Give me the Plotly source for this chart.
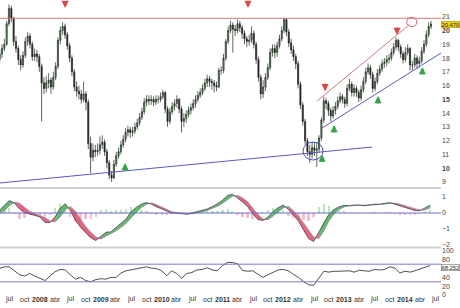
import pandas as pd
import plotly.graph_objects as go

# ---------------- data ----------------
bar_dates = pd.date_range('2007-05-04', periods=186, freq='14D')
closes = [18.3,18.7,19.0,20.5,21.6,20.9,19.2,18.7,17.9,17.5,
          18.2,19.2,19.6,19.0,18.1,18.3,18.1,17.4,16.2,15.8,
          16.2,16.4,15.9,16.6,17.4,19.3,20.0,20.3,19.7,18.9,
          18.0,17.0,15.9,15.6,15.4,15.0,15.4,14.8,11.8,10.8,
          11.3,11.2,11.3,11.7,11.9,11.2,10.4,9.5,9.3,10.3,
          10.9,11.2,11.7,12.1,12.6,12.8,12.6,12.7,13.0,13.3,
          13.7,14.1,14.8,15.0,14.9,15.0,14.8,15.0,15.0,15.2,
          15.5,14.3,13.4,14.1,14.5,14.7,15.0,14.3,13.4,13.6,
          13.9,14.2,14.4,14.7,15.0,15.3,15.5,15.8,16.2,16.5,
          16.3,16.2,16.0,15.9,17.1,17.1,18.0,19.2,20.0,20.4,
          20.1,20.0,20.5,20.2,19.8,19.4,19.2,19.3,19.8,19.0,
          17.9,16.6,15.4,15.9,16.6,17.3,18.4,18.7,18.4,18.9,
          19.4,20.0,20.8,19.9,19.1,18.6,18.1,17.6,16.1,14.6,
          13.4,12.0,11.2,11.0,11.5,11.3,11.4,12.2,13.5,14.9,
          14.7,14.2,13.8,14.2,14.5,14.9,15.2,15.0,14.7,15.8,
          16.1,15.5,15.8,15.5,15.1,15.7,16.3,17.0,17.3,16.8,
          15.8,16.3,16.9,17.2,17.6,17.7,17.9,18.0,18.4,18.8,
          19.3,18.8,18.3,17.9,18.4,18.7,17.5,17.5,18.0,17.6,
          17.8,18.5,19.0,19.7,20.3,20.47]
highs = [18.6,19.0,19.4,20.7,21.9,21.8,21.0,19.6,18.9,18.2,
         18.5,19.5,19.9,19.8,19.2,18.7,18.6,18.3,17.6,16.6,
         16.7,16.9,16.6,17.0,17.7,19.5,20.3,20.6,20.5,19.9,
         19.1,18.2,17.2,16.3,16.0,15.7,16.3,15.6,15.0,12.3,
         11.8,11.7,11.8,12.3,12.4,12.1,11.4,10.6,9.8,10.6,
         11.2,11.5,12.0,12.4,12.9,13.1,13.0,13.0,13.3,13.6,
         14.0,14.4,15.1,15.3,15.3,15.3,15.2,15.3,15.3,15.5,
         15.7,15.6,14.5,14.4,14.8,15.0,15.3,15.1,14.5,14.0,
         14.2,14.5,14.7,15.0,15.3,15.6,15.8,16.1,16.5,16.8,
         16.7,16.5,16.4,16.3,17.3,17.4,18.3,19.4,20.3,20.7,
         20.6,20.4,20.8,20.7,20.4,20.0,19.6,19.7,20.3,20.0,
         19.2,18.1,16.8,16.4,16.9,17.6,18.7,19.0,19.0,19.2,
         19.7,20.3,20.95,20.9,20.1,19.4,18.9,18.3,17.8,16.3,
         14.8,13.6,12.2,11.7,11.9,11.9,11.9,12.4,13.7,15.2,
         15.1,14.9,14.4,14.5,14.8,15.2,15.5,15.4,15.2,16.1,
         16.5,16.3,16.1,16.0,15.7,16.0,16.6,17.3,17.6,17.5,
         17.0,16.6,17.2,17.5,17.9,18.0,18.2,18.3,18.7,19.1,
         19.5,19.4,19.0,18.5,18.8,19.0,18.8,17.8,18.3,18.2,
         18.1,18.8,19.3,20.0,20.6,20.7]
lows = [17.6,18.0,18.5,18.9,20.3,20.6,18.9,18.4,17.5,17.1,
        17.3,18.0,18.9,18.7,17.8,17.8,17.7,17.0,13.4,15.4,
        15.5,15.8,15.4,15.7,16.4,17.2,19.0,19.7,19.4,18.6,
        17.7,16.7,15.6,15.2,15.0,14.7,14.8,14.2,11.4,9.65,
        10.5,10.8,10.9,11.0,11.4,10.9,10.0,9.2,9.0,9.2,
        10.1,10.7,11.0,11.5,11.9,12.3,12.2,12.3,12.5,12.8,
        13.1,13.5,13.9,14.5,14.6,14.6,14.5,14.6,14.7,14.8,
        15.0,14.0,13.0,13.2,13.9,14.2,14.4,14.0,12.6,13.0,
        13.3,13.7,13.9,14.2,14.4,14.8,15.1,15.3,15.6,15.9,
        15.9,15.7,15.5,15.6,15.8,16.8,16.9,17.8,19.0,19.8,
        18.4,19.6,19.8,19.9,19.4,19.0,18.8,18.9,19.1,18.7,
        17.6,16.3,15.0,15.1,15.6,16.4,17.1,18.1,18.0,18.1,
        18.7,19.2,19.8,19.6,18.8,18.3,17.8,17.2,15.8,14.3,
        13.1,11.7,10.9,10.4,10.7,10.9,10.1,11.1,12.0,13.3,
        14.3,13.8,13.4,13.6,13.9,14.3,14.7,14.7,14.4,14.5,
        15.6,15.2,15.2,15.2,14.8,14.9,15.5,16.1,16.8,16.5,
        15.5,15.6,16.1,16.7,17.0,17.3,17.4,17.6,17.8,18.2,
        18.6,18.5,18.0,17.6,17.7,18.2,17.1,17.1,17.3,17.2,
        17.3,17.6,18.3,18.8,19.5,20.1]
first_open = 17.9
opens = [first_open] + closes[:-1]

ind_dates = pd.date_range('2007-05-01', periods=86, freq='MS')
macd = [0.15,0.5,0.78,0.62,0.25,0.02,-0.05,-0.15,-0.25,-0.6,
        -0.6,-0.25,0.3,0.58,0.15,-0.45,-0.9,-1.2,-1.55,-1.72,
        -1.45,-1.2,-1.18,-0.92,-0.7,-0.38,0.08,0.35,0.55,0.65,
        0.55,0.38,0.26,0.1,0.0,0.0,-0.04,-0.08,0.0,0.07,
        0.15,0.25,0.4,0.57,0.8,1.1,1.17,0.95,0.7,0.4,
        -0.05,-0.4,-0.47,-0.25,0.1,0.33,0.5,0.22,-0.15,-0.5,
        -1.05,-1.6,-1.78,-1.2,-0.55,-0.08,0.22,0.38,0.48,0.45,
        0.5,0.5,0.45,0.5,0.55,0.55,0.6,0.65,0.55,0.45,
        0.35,0.25,0.15,0.15,0.3,0.5]
signal = [-0.05,0.15,0.45,0.68,0.6,0.35,0.1,-0.05,-0.15,-0.3,
          -0.5,-0.55,-0.25,0.2,0.4,0.1,-0.4,-0.85,-1.2,-1.5,
          -1.62,-1.45,-1.28,-1.12,-0.9,-0.65,-0.3,0.05,0.35,0.55,
          0.63,0.52,0.38,0.22,0.08,0.02,-0.02,-0.06,-0.05,0.0,
          0.07,0.15,0.27,0.42,0.6,0.85,1.05,1.1,0.95,0.7,
          0.3,-0.1,-0.38,-0.42,-0.2,0.08,0.32,0.42,0.15,-0.2,
          -0.6,-1.1,-1.5,-1.6,-1.1,-0.5,-0.05,0.22,0.38,0.45,
          0.46,0.48,0.48,0.47,0.5,0.53,0.56,0.6,0.62,0.55,
          0.45,0.35,0.25,0.18,0.2,0.32]
rsi = [60,64,64,55,46,43,49,43,38,33,
       43,53,58,57,46,36,40,33,30,35,
       37,36,40,40,50,55,57,59,62,64,
       61,60,55,44,55,49,38,49,51,57,
       58,62,57,55,67,74,74,71,56,54,
       55,47,40,46,51,57,58,55,47,40,
       31,23,22,38,54,52,54,54,55,55,
       52,56,55,54,58,57,58,64,61,50,
       54,52,55,60,63,67]

# annotations
resistance_level = 20.89
support_line = (('2007-05-06', 8.93), ('2013-06-18', 11.54))
red_channel = (('2012-07-22', 14.88), ('2014-02-01', 20.47))
blue_channel = (('2012-08-21', 12.92), ('2014-08-05', 18.37))
red_arrow_dates = ['2008-05-31', '2011-06-03', '2012-09-08', '2013-11-14']
red_arrow_vals = [21.64, 21.64, 15.6, 19.68]
green_arrow_dates = ['2009-05-26', '2012-08-21', '2012-11-01', '2013-07-23', '2014-04-15']
green_arrow_vals = [10.38, 11.0, 13.14, 15.25, 17.35]
blue_circle = ('2012-04-29', '2012-08-27', 10.6, 11.9)
red_circle = ('2014-01-11', '2014-03-13', 20.28, 20.96)
last_price_label = '20.470'
last_rsi_label = '68.252'
rsi_levels = [30, 70]

price_ticks = list(range(9, 23))
macd_ticks = [-2, -1, 0, 1]
rsi_ticks = [0, 20, 40, 80, 100]
month_names = {4: 'abr', 7: 'jul', 10: 'oct'}
x_start, x_end = '2007-05-06', '2014-08-05'

# ---------------- figure ----------------
W, H = 460, 308
PLOT_W = 441
def py(pix):  # pixel row -> paper y (t=b=0)
    return (H - pix) / H
RIGHT_EDGE = (W - 0.5) / PLOT_W  # paper x of the figure's right edge

fig = go.Figure()

fig.add_trace(go.Candlestick(
    x=bar_dates, open=opens, high=highs, low=lows, close=closes,
    increasing=dict(line=dict(color='#1f2b1f', width=0.7), fillcolor='#5f9f5f'),
    decreasing=dict(line=dict(color='#1e1e1e', width=0.7), fillcolor='#2c2c2c'),
    whiskerwidth=0, xaxis='x', yaxis='y', showlegend=False, hoverinfo='skip'))

# MACD histogram
hist = [m - s for m, s in zip(macd, signal)]
fig.add_trace(go.Bar(
    x=ind_dates, y=hist, width=14 * 86400000,
    marker=dict(color=['rgba(120,205,110,0.5)' if h >= 0 else 'rgba(235,130,165,0.5)' for h in hist],
                line=dict(width=0)),
    xaxis='x2', yaxis='y2', showlegend=False, hoverinfo='skip'))

# MACD ribbon (green when macd above signal, red otherwise)
n = len(hist)
start = 0
for i in range(1, n + 1):
    if i == n or (hist[i] >= 0) != (hist[start] >= 0):
        end = min(i + 1, n)
        xs = list(ind_dates[start:end]) + list(ind_dates[start:end])[::-1]
        ys = macd[start:end] + signal[start:end][::-1]
        col = 'rgba(70,175,80,0.85)' if hist[start] >= 0 else 'rgba(225,75,100,0.85)'
        fig.add_trace(go.Scatter(x=xs, y=ys, fill='toself', fillcolor=col, mode='lines',
                                 line=dict(width=0), xaxis='x2', yaxis='y2',
                                 showlegend=False, hoverinfo='skip'))
        start = i
fig.add_trace(go.Scatter(x=ind_dates, y=signal, mode='lines', line=dict(color='#8a8a9a', width=0.8),
                         xaxis='x2', yaxis='y2', showlegend=False, hoverinfo='skip'))
fig.add_trace(go.Scatter(x=ind_dates, y=macd, mode='lines', line=dict(color='#4a3f5a', width=0.8),
                         xaxis='x2', yaxis='y2', showlegend=False, hoverinfo='skip'))

# RSI
fig.add_trace(go.Scatter(x=ind_dates, y=rsi, mode='lines', line=dict(color='#222222', width=0.8),
                         xaxis='x3', yaxis='y3', showlegend=False, hoverinfo='skip'))

shapes = []
for pix in (188, 247.5):
    shapes.append(dict(type='line', xref='paper', yref='paper', x0=0, x1=1, y0=py(pix), y1=py(pix),
                       line=dict(color='#cfcfcf', width=2)))
shapes.append(dict(type='line', xref='paper', yref='y', x0=0, x1=1, y0=resistance_level, y1=resistance_level,
                   line=dict(color='#d07a7a', width=1)))
for (a, b), col in ((support_line, '#5a5ac0'), (red_channel, '#d07a7a'), (blue_channel, '#5a5ac0')):
    shapes.append(dict(type='line', xref='x', yref='y', x0=a[0], y0=a[1], x1=b[0], y1=b[1],
                       line=dict(color=col, width=1)))
shapes.append(dict(type='circle', xref='x', yref='y', x0=blue_circle[0], x1=blue_circle[1],
                   y0=blue_circle[2], y1=blue_circle[3], line=dict(color='#4a4ac0', width=1)))
shapes.append(dict(type='circle', xref='x', yref='y', x0=red_circle[0], x1=red_circle[1],
                   y0=red_circle[2], y1=red_circle[3], line=dict(color='#d06a6a', width=1)))
shapes.append(dict(type='line', xref='paper', yref='y2', x0=0, x1=1, y0=0, y1=0,
                   line=dict(color='#6a6acc', width=1)))
for lv in rsi_levels:
    shapes.append(dict(type='line', xref='paper', yref='y3', x0=0, x1=1, y0=lv, y1=lv,
                       line=dict(color='#7a7ad0', width=1)))

annotations = []
for d, v in zip(red_arrow_dates, red_arrow_vals):
    annotations.append(dict(x=d, y=v, xref='x', yref='y', ax=0, ay=-9, text='', showarrow=True,
                            arrowhead=2, arrowsize=0.6, arrowwidth=2.4, arrowcolor='#d84848'))
for d, v in zip(green_arrow_dates, green_arrow_vals):
    annotations.append(dict(x=d, y=v, xref='x', yref='y', ax=0, ay=9, text='', showarrow=True,
                            arrowhead=2, arrowsize=0.6, arrowwidth=2.4, arrowcolor='#3aa04a'))
for yr in range(2007, 2015):
    for mo in (1, 4, 7, 10):
        d = pd.Timestamp(yr, mo, 1)
        if d < pd.Timestamp(x_start) or d > pd.Timestamp(x_end):
            continue
        txt = '<b>%d</b>' % yr if mo == 1 else month_names[mo]
        annotations.append(dict(x=d, y=py(299), xref='x', yref='paper', text=txt, showarrow=False,
                                yanchor='middle', xanchor='center',
                                font=dict(size=7, color='#333', family='Liberation Sans')))
annotations.append(dict(x=RIGHT_EDGE, y=closes[-1], xref='paper', yref='y', text=last_price_label,
                        showarrow=False, xanchor='right', yanchor='middle', bgcolor='#f2d21c',
                        bordercolor='#a88c00', borderwidth=0.5, borderpad=0,
                        font=dict(size=5.8, color='#222', family='Liberation Sans')))
annotations.append(dict(x=RIGHT_EDGE, y=rsi_levels[1], xref='paper', yref='y3', text=last_rsi_label,
                        showarrow=False, xanchor='right', yanchor='top', bgcolor='white',
                        bordercolor='#555', borderwidth=0.5, borderpad=0,
                        font=dict(size=5.8, color='#222', family='Liberation Sans')))

tickfont = dict(size=7, color='#444', family='Liberation Sans')
price_text = ['<b>%d</b>' % t if t in (10, 15, 20) else str(t) for t in price_ticks]
common_y = dict(side='right', showgrid=False, zeroline=False, tickfont=tickfont, ticks='', automargin=False)
common_x = dict(domain=[0, 1], type='date', showticklabels=False, showgrid=False, zeroline=False,
                automargin=False)

fig.update_layout(
    template='none',
    width=W, height=H, margin=dict(l=0, r=W - PLOT_W, t=0, b=0, pad=0), autosize=False,
    paper_bgcolor='white', plot_bgcolor='white', showlegend=False,
    bargap=0,
    xaxis=dict(anchor='y', range=[x_start, x_end], rangeslider=dict(visible=False), **common_x),
    xaxis2=dict(anchor='y2', matches='x', **common_x),
    xaxis3=dict(anchor='y3', matches='x', **common_x),
    yaxis=dict(domain=[py(188), 1], range=[8.565, 22.218], tickvals=price_ticks, ticktext=price_text, **common_y),
    yaxis2=dict(domain=[py(247), py(190)], range=[-2.125, 1.4375], tickvals=macd_ticks, **common_y),
    yaxis3=dict(domain=[0, py(248)], range=[-29.5, 106.8], tickvals=rsi_ticks, **common_y),
    shapes=shapes, annotations=annotations,
)

fig.write_html('out.html')
